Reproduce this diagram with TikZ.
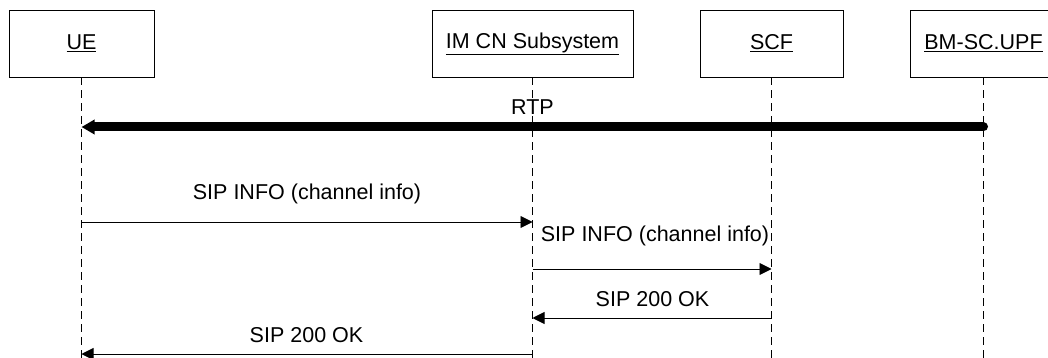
\documentclass[tikz,border=0pt]{standalone}
\usepackage{fontspec}
\setmainfont{Liberation Sans}
\usetikzlibrary{arrows.meta}
\begin{document}
\begin{tikzpicture}[x=1pt,y=-1pt,
  actor/.style={draw, line width=0.9pt, minimum height=67pt, inner sep=0pt, font=\fontsize{21.5}{25}\selectfont},
  life/.style={line width=0.8pt, dash pattern=on 8pt off 5pt},
  msg/.style={line width=0.9pt, -{Triangle[length=12pt,width=12pt]}},
  lbl/.style={font=\fontsize{21.5}{25}\selectfont, inner sep=0pt}]
\clip (0,0) rectangle (1048,358);
\node[actor, minimum width=145pt] (ue) at (81.5,43.5) {\underline{UE}};
\node[actor, minimum width=201pt] (ims) at (532.5,43.5) {\underline{IM CN Subsystem}};
\node[actor, minimum width=143pt] (scf) at (771.5,43.5) {\underline{SCF}};
\node[actor, minimum width=147pt] (bm) at (983.5,43.5) {\underline{BM-SC.UPF}};
% lifeline ends
\coordinate (ueE) at (81.5,360);
\coordinate (imsE) at (532.5,360);
\coordinate (scfE) at (771.5,360);
\coordinate (bmE) at (983.5,360);
\draw[life] (ue.south) -- (ueE);
\draw[life] (ims.south) -- (imsE);
\draw[life] (scf.south) -- (scfE);
\draw[life] (bm.south) -- (bmE);
% message points
\coordinate (rtpB) at (983.5,127);
\coordinate (rtpU) at (81.5,127);
\coordinate (m1a) at (81.5,222);
\coordinate (m1b) at (532.5,222);
\coordinate (m2a) at (532.5,269);
\coordinate (m2b) at (771.5,269);
\coordinate (m3a) at (771.5,318);
\coordinate (m3b) at (532.5,318);
\coordinate (m4a) at (532.5,354);
\coordinate (m4b) at (81.5,354);
% RTP
\draw[line width=9pt, line cap=round, -{Triangle[length=13pt,width=14pt]}] (rtpB) -- (rtpU);
\node[lbl] (lrtp) at (532.5,107.5) {RTP};
% messages
\draw[msg] (m1a) -- (m1b);
\node[lbl] (l1) at (307,194) {SIP INFO (channel info)};
\draw[msg] (m2a) -- (m2b);
\node[lbl] (l2) at (655,236) {SIP INFO (channel info)};
\draw[msg] (m3a) -- (m3b);
\node[lbl] (l3) at (652.5,299.5) {SIP 200 OK};
\draw[msg] (m4a) -- (m4b);
\node[lbl] (l4) at (306.5,335.5) {SIP 200 OK};
\end{tikzpicture}
\end{document}
